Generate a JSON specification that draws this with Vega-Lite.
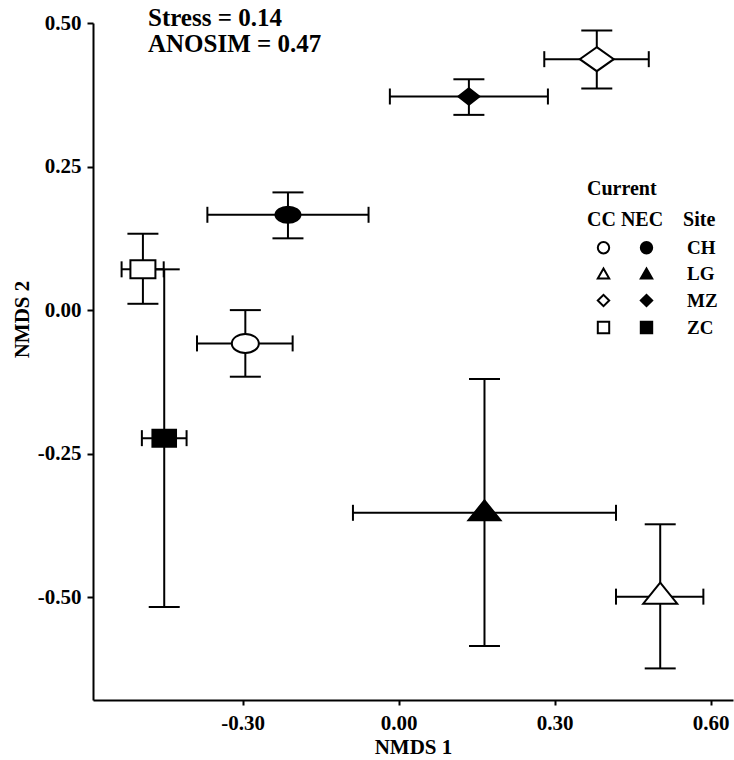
{
  "$schema": "https://vega.github.io/schema/vega-lite/v6.json",
  "width": 640,
  "height": 677,
  "autosize": {"type": "none"},
  "padding": {"left": 93, "top": 23, "right": 1, "bottom": 60},
  "background": "white",
  "title": {
    "text": ["Stress = 0.14", "ANOSIM = 0.47"],
    "anchor": "start",
    "frame": "group",
    "font": "Liberation Serif",
    "fontSize": 25,
    "fontWeight": "bold",
    "color": "black",
    "baseline": "top",
    "lineHeight": 26,
    "dx": 55,
    "offset": -45
  },
  "data": {
    "values": [
      {"site": "CH", "current": "CC", "key": "CC|CH", "x": -0.295, "xlo": -0.388, "xhi": -0.204, "y": -0.058, "ylo": -0.116, "yhi": 0.0},
      {"site": "CH", "current": "NEC", "key": "NEC|CH", "x": -0.213, "xlo": -0.368, "xhi": -0.058, "y": 0.166, "ylo": 0.125, "yhi": 0.205},
      {"site": "LG", "current": "CC", "key": "CC|LG", "x": 0.503, "xlo": 0.418, "xhi": 0.586, "y": -0.499, "ylo": -0.624, "yhi": -0.373},
      {"site": "LG", "current": "NEC", "key": "NEC|LG", "x": 0.165, "xlo": -0.088, "xhi": 0.418, "y": -0.353, "ylo": -0.585, "yhi": -0.12},
      {"site": "MZ", "current": "CC", "key": "CC|MZ", "x": 0.381, "xlo": 0.28, "xhi": 0.481, "y": 0.437, "ylo": 0.386, "yhi": 0.487},
      {"site": "MZ", "current": "NEC", "key": "NEC|MZ", "x": 0.135, "xlo": -0.017, "xhi": 0.287, "y": 0.372, "ylo": 0.34, "yhi": 0.402},
      {"site": "ZC", "current": "CC", "key": "CC|ZC", "x": -0.492, "xlo": -0.533, "xhi": -0.452, "y": 0.071, "ylo": 0.011, "yhi": 0.133},
      {"site": "ZC", "current": "NEC", "key": "NEC|ZC", "x": -0.451, "xlo": -0.494, "xhi": -0.408, "y": -0.223, "ylo": -0.517, "yhi": 0.071}
    ]
  },
  "config": {
    "view": {"stroke": null},
    "font": "Liberation Serif",
    "axis": {
      "grid": false,
      "domainColor": "black",
      "domainWidth": 2,
      "tickColor": "black",
      "tickWidth": 2,
      "labelFont": "Liberation Serif",
      "labelFontSize": 21,
      "labelFontWeight": "bold",
      "labelColor": "black",
      "labelFlush": false,
      "labelOverlap": false,
      "titleFont": "Liberation Serif",
      "titleFontSize": 21,
      "titleFontWeight": "bold",
      "titleColor": "black"
    },
    "legend": {
      "orient": "none",
      "legendX": 494,
      "legendY": 156,
      "padding": 0,
      "direction": "horizontal",
      "columns": 2,
      "gridAlign": "each",
      "columnPadding": 0,
      "rowPadding": 6,
      "symbolSize": 130,
      "symbolOffset": 7,
      "symbolStrokeWidth": 2,
      "symbolStrokeColor": "black",
      "symbolOpacity": 1,
      "labelOffset": 17,
      "labelFont": "Liberation Serif",
      "labelFontSize": 19,
      "labelFontWeight": "bold",
      "labelColor": "black",
      "titleFont": "Liberation Serif",
      "titleFontSize": 20,
      "titleFontWeight": "bold",
      "titleColor": "black",
      "titleLineHeight": 31,
      "titlePadding": 8
    }
  },
  "layer": [
    {
      "mark": {"type": "point", "filled": true, "opacity": 0, "stroke": "black", "strokeWidth": 2},
      "encoding": {
        "x": {"field": "x", "type": "quantitative", "scale": {"domain": [-0.588, 0.643], "nice": false, "zero": false},
          "axis": {"title": "NMDS 1", "values": [-0.3, 0, 0.3, 0.6], "labelExpr": "(datum.value < 0 ? '-' : '') + format(abs(datum.value), '.2f')", "tickSize": 5, "labelPadding": 7, "titlePadding": 3}},
        "y": {"field": "y", "type": "quantitative", "scale": {"domain": [-0.679, 0.5], "nice": false, "zero": false},
          "axis": {"title": "NMDS 2", "values": [-0.5, -0.25, 0, 0.25, 0.5], "labelExpr": "(datum.value < 0 ? '-' : '') + format(abs(datum.value), '.2f')", "tickSize": 6, "labelPadding": 6, "titlePadding": 5, "titleY": 296}},
        "shape": {"field": "key", "type": "nominal",
          "scale": {"domain": ["CC|CH", "NEC|CH", "CC|LG", "NEC|LG", "CC|MZ", "NEC|MZ", "CC|ZC", "NEC|ZC"],
            "range": ["circle", "circle", "triangle-up", "triangle-up", "diamond", "diamond", "square", "square"]},
          "legend": {"title": ["Current", "CC NEC\u00a0\u00a0\u00a0\u00a0Site"],
            "labelExpr": "split(datum.label, '|')[0] == 'CC' ? '' : split(datum.label, '|')[1]",
            "encode": {"symbols": {"update": {"stroke": {"value": "black"}, "strokeWidth": {"value": 2}, "opacity": {"value": 1}}},
              "labels": {"update": {"dx": {"signal": "indexof(datum.value, 'CC|') === 0 ? 0 : 14"}}}}}},
        "fill": {"field": "key", "type": "nominal",
          "scale": {"domain": ["CC|CH", "NEC|CH", "CC|LG", "NEC|LG", "CC|MZ", "NEC|MZ", "CC|ZC", "NEC|ZC"],
            "range": ["white", "black", "white", "black", "white", "black", "white", "black"]},
          "legend": {"title": ["Current", "CC NEC\u00a0\u00a0\u00a0\u00a0Site"],
            "labelExpr": "split(datum.label, '|')[0] == 'CC' ? '' : split(datum.label, '|')[1]",
            "encode": {"symbols": {"update": {"stroke": {"value": "black"}, "strokeWidth": {"value": 2}, "opacity": {"value": 1}}},
              "labels": {"update": {"dx": {"signal": "indexof(datum.value, 'CC|') === 0 ? 0 : 14"}}}}}}
      }
    },
    {
      "mark": {"type": "rule", "color": "black", "strokeWidth": 2},
      "encoding": {
        "x": {"field": "xlo", "type": "quantitative", "scale": {"domain": [-0.588, 0.643], "nice": false, "zero": false}},
        "x2": {"field": "xhi"},
        "y": {"field": "y", "type": "quantitative", "scale": {"domain": [-0.679, 0.5], "nice": false, "zero": false}}
      }
    },
    {
      "mark": {"type": "rule", "color": "black", "strokeWidth": 2},
      "encoding": {
        "x": {"field": "x", "type": "quantitative", "scale": {"domain": [-0.588, 0.643], "nice": false, "zero": false}},
        "y": {"field": "ylo", "type": "quantitative", "scale": {"domain": [-0.679, 0.5], "nice": false, "zero": false}},
        "y2": {"field": "yhi"}
      }
    },
    {
      "mark": {"type": "tick", "orient": "vertical", "color": "black", "size": 16, "thickness": 2, "opacity": 1},
      "encoding": {
        "x": {"field": "xlo", "type": "quantitative", "scale": {"domain": [-0.588, 0.643], "nice": false, "zero": false}},
        "y": {"field": "y", "type": "quantitative", "scale": {"domain": [-0.679, 0.5], "nice": false, "zero": false}}
      }
    },
    {
      "mark": {"type": "tick", "orient": "vertical", "color": "black", "size": 16, "thickness": 2, "opacity": 1},
      "encoding": {
        "x": {"field": "xhi", "type": "quantitative", "scale": {"domain": [-0.588, 0.643], "nice": false, "zero": false}},
        "y": {"field": "y", "type": "quantitative", "scale": {"domain": [-0.679, 0.5], "nice": false, "zero": false}}
      }
    },
    {
      "mark": {"type": "tick", "orient": "horizontal", "color": "black", "size": 31, "thickness": 2, "opacity": 1},
      "encoding": {
        "x": {"field": "x", "type": "quantitative", "scale": {"domain": [-0.588, 0.643], "nice": false, "zero": false}},
        "y": {"field": "ylo", "type": "quantitative", "scale": {"domain": [-0.679, 0.5], "nice": false, "zero": false}}
      }
    },
    {
      "mark": {"type": "tick", "orient": "horizontal", "color": "black", "size": 31, "thickness": 2, "opacity": 1},
      "encoding": {
        "x": {"field": "x", "type": "quantitative", "scale": {"domain": [-0.588, 0.643], "nice": false, "zero": false}},
        "y": {"field": "yhi", "type": "quantitative", "scale": {"domain": [-0.679, 0.5], "nice": false, "zero": false}}
      }
    },
    {
      "mark": {"type": "point", "filled": true, "size": 400, "stroke": "black", "strokeWidth": 2, "opacity": 1},
      "encoding": {
        "x": {"field": "x", "type": "quantitative", "scale": {"domain": [-0.588, 0.643], "nice": false, "zero": false}},
        "y": {"field": "y", "type": "quantitative", "scale": {"domain": [-0.679, 0.5], "nice": false, "zero": false}},
        "shape": {"field": "key", "type": "nominal", "legend": null,
          "scale": {"domain": ["CC|CH", "NEC|CH", "CC|LG", "NEC|LG", "CC|MZ", "NEC|MZ", "CC|ZC", "NEC|ZC"],
            "range": [
              "M1.35,0 C1.35,0.525 0.746,0.95 0,0.95 C-0.746,0.95 -1.35,0.525 -1.35,0 C-1.35,-0.525 -0.746,-0.95 0,-0.95 C0.746,-0.95 1.35,-0.525 1.35,0 Z",
              "M1.25,0 C1.25,0.442 0.69,0.8 0,0.8 C-0.69,0.8 -1.25,0.442 -1.25,0 C-1.25,-0.442 -0.69,-0.8 0,-0.8 C0.69,-0.8 1.25,-0.442 1.25,0 Z",
              "M0,-1.4 L1.7,0.7 L-1.7,0.7 Z",
              "M0,-1.25 L1.6,0.75 L-1.6,0.75 Z",
              "M0,-1.2 L1.7,0 L0,1.2 L-1.7,0 Z",
              "M0,-0.82 L1.05,0 L0,0.82 L-1.05,0 Z",
              "M-1.25,-0.9 L1.25,-0.9 L1.25,0.9 L-1.25,0.9 Z",
              "M-1.18,-0.85 L1.18,-0.85 L1.18,0.85 L-1.18,0.85 Z"
            ]}},
        "fill": {"field": "current", "type": "nominal", "legend": null,
          "scale": {"domain": ["CC", "NEC"], "range": ["white", "black"]}}
      }
    }
  ],
  "resolve": {"scale": {"shape": "independent", "fill": "independent"}}
}
